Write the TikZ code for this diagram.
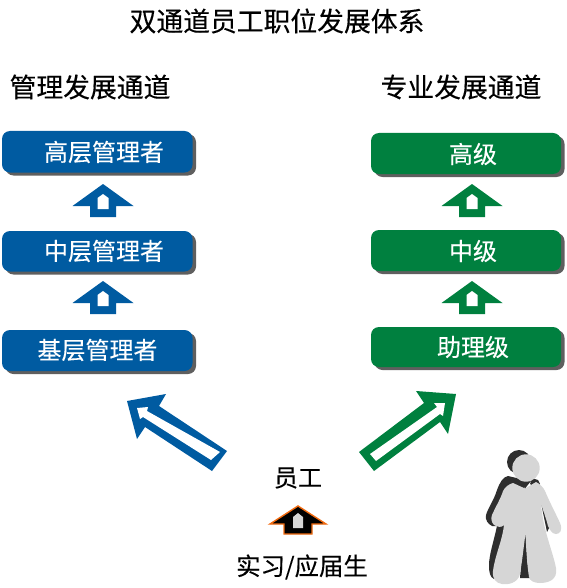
\documentclass[tikz,border=0pt]{standalone}
\usepackage{fontspec}
\setmainfont[FakeBold=0.25]{Noto Sans CJK SC}
\definecolor{blu}{HTML}{005BA1}
\definecolor{grn}{HTML}{00803F}
\definecolor{shad}{HTML}{5F5F5F}
\definecolor{bodyc}{HTML}{D6D6D6}
\definecolor{darkc}{HTML}{2E2E2E}
\definecolor{org}{HTML}{F26A0F}
\tikzset{
  x=1pt,y=-1pt,
  head/.style={font=\fontsize{26.8}{30}\selectfont,text=black,inner sep=0pt,anchor=center},
  plain/.style={font=\fontsize{24}{28}\selectfont,text=black,inner sep=0pt,anchor=center},
  lab/.style={font=\fontsize{24}{28}\selectfont,text=white,inner sep=0pt,anchor=center},
}
\newcommand{\levelbox}[6]{% name, x1,y1,x2,y2,colour
  \fill[shad,rounded corners=8pt] (#2+3.5,#3+3) rectangle (#4+3.5,#5+3);
  \fill[#6,rounded corners=8pt] (#2,#3) rectangle (#4,#5);
  \coordinate (#1) at ({(#2+#4)/2},{(#3+#5)/2});
}
\newcommand{\uparrowmark}[4]{% cx, tip y, fill, inner fill
  \fill[#3] (#1,#2) -- (#1+30.5,#2+22) -- (#1+13,#2+22) -- (#1+13,#2+33) -- (#1-13,#2+33) -- (#1-13,#2+22) -- (#1-30.5,#2+22) -- cycle;
  \fill[#4] (#1,#2+10) -- (#1+5.5,#2+14) -- (#1+5.5,#2+25) -- (#1-5.5,#2+25) -- (#1-5.5,#2+14) -- cycle;
}
\begin{document}
\begin{tikzpicture}
\useasboundingbox (0,0) rectangle (566,588);
\node[head] (title) at (277,21) {双通道员工职位发展体系};
\node[head] (lefthead) at (90,87) {管理发展通道};
\node[head] (righthead) at (461,87) {专业发展通道};

\levelbox{a1}{2}{131}{192.5}{172.5}{blu}
\levelbox{a2}{2}{231}{192.5}{271.5}{blu}
\levelbox{a3}{2}{330}{192.5}{371}{blu}
\levelbox{b1}{371}{133}{561}{174}{grn}
\levelbox{b2}{371}{230}{561}{271}{grn}
\levelbox{b3}{371}{327}{561}{367}{grn}
\node[lab] (ta1) at (104,152) {高层管理者};
\node[lab] (ta2) at (104,251) {中层管理者};
\node[lab] (ta3) at (97.5,350) {基层管理者};
\node[lab] (tb1) at (473,154) {高级};
\node[lab] (tb2) at (473,251) {中级};
\node[lab] (tb3) at (473,347) {助理级};

\uparrowmark{103}{184}{blu}{white}
\uparrowmark{103}{281}{blu}{white}
\uparrowmark{472}{184}{grn}{white}
\uparrowmark{472}{281}{grn}{white}

% big hollow arrows
\fill[blu] (127,401) -- (166,394) -- (159,406) -- (227,451) -- (212,471) -- (145,427) -- (137,439) -- cycle;
\fill[white] (137,408) -- (148,407) -- (147,411) -- (220,452) -- (211,460) -- (143,417) -- (140,419) -- cycle;
\fill[grn] (456,394) -- (416,391) -- (424,403) -- (359,452) -- (374,471) -- (440,422) -- (448,434) -- cycle;
\fill[white] (445,403) -- (434,403) -- (437,407) -- (370,454) -- (376,461) -- (440,414) -- (443,416) -- cycle;

\node[plain] (emp) at (298,478) {员工};
\draw[org,line width=1.4pt,fill=black,line join=miter] (298,506) -- (326,524) -- (312,524) -- (312,534) -- (284,534) -- (284,524) -- (270,524) -- cycle;
\fill[bodyc] (298,513) -- (303,517) -- (303,528) -- (293,528) -- (293,517) -- cycle;
\node[plain,font=\fontsize{24.4}{28}\selectfont] (intern) at (302,567) {实习/应届生};

% person: dark shadow
\fill[darkc] (519,462) circle (12);
\fill[darkc] (508,476) .. controls (503,477) and (500,482) .. (497,490)
  .. controls (494,500) and (488,508) .. (486,515) .. controls (485,520) and (488,524) .. (492,526)
  -- (497,526) .. controls (494,540) and (489,555) .. (489,565) .. controls (489,573) and (490,577) .. (494,579)
  -- (515,560) -- (525,480) -- cycle;
\fill[darkc] (532,478) -- (538,480) -- (540,484) -- (536,488) -- (530,484) -- cycle;
\fill[darkc] (541,503) -- (544,503) -- (549,528) -- (547,532) -- cycle;
\fill[darkc] (524,530) -- (526,530) -- (527,560) -- (530,578) -- (520,578) -- cycle;
% person: light body
\fill[bodyc] (513,483) -- (525,488.5) -- (536,482) .. controls (540,484) and (543,487) .. (545,491)
  .. controls (550,503) and (557,516) .. (560,523) .. controls (563,530) and (560,534) .. (556,534)
  .. controls (552,534) and (550,530) .. (548,526)
  .. controls (546,518) and (543,510) .. (541,504)
  .. controls (543,530) and (553,552) .. (556,568) .. controls (558,580) and (548,583) .. (540,583)
  .. controls (534,583) and (530,581) .. (529,577) .. controls (527,565) and (526,545) .. (525.5,533)
  .. controls (524,545) and (522,562) .. (520,574) .. controls (518,583) and (508,585) .. (502,584)
  .. controls (496,583) and (492,579) .. (493,571)
  .. controls (495,555) and (502,542) .. (504,525)
  .. controls (501,528) and (498,527) .. (494,525) .. controls (491,522) and (491,518) .. (492,515)
  .. controls (496,506) and (501,498) .. (503,491) .. controls (505,487) and (509,484) .. (513,483) -- cycle;
\fill[darkc] (520,481) -- (531,481) -- (525,488.5) -- cycle;
\fill[bodyc] (526,468) circle (13.7);
\end{tikzpicture}
\end{document}
